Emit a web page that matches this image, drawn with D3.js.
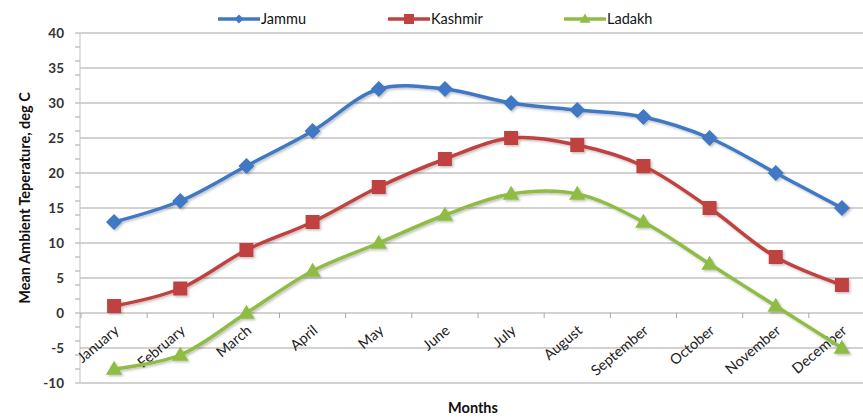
<!DOCTYPE html>
<html><head><meta charset="utf-8">
<script src="https://cdn.jsdelivr.net/npm/d3@7"></script>
<style>body{margin:0;background:#fff}svg{display:block}text{font-family:Lato,"Open Sans",sans-serif}</style>
</head><body>
<svg id="c" width="863" height="418"></svg>
<script>
const months = ["January","February","March","April","May","June","July","August","September","October","November","December"];
const jammu = [13,16,21,26,32,32,30,29,28,25,20,15];
const kashmir = [1,3.5,9,13,18,22,25,24,21,15,8,4];
const ladakh = [-8,-6,0,6,10,14,17,17,13,7,1,-5];
const seriesNames = ["Jammu","Kashmir","Ladakh"];
const seriesColors = ["#3f78c4","#c0423f","#8fbc45"];
const yTicks = [-10,-5,0,5,10,15,20,25,30,35,40];

const svg = d3.select("#c");
const x = d3.scaleBand().domain(months).range([81, 875]);
const y = d3.scaleLinear().domain([-10,40]).range([383, 33]);
const cx = d => x(d) + x.bandwidth()/2;

// marker shapes: diamond (rotated square), square, triangle
function marker(k, s){
  if(k===0) return `M0,${-s}L${s},0L0,${s}L${-s},0Z`;
  if(k===1) return `M${-s},${-s}H${s}V${s}H${-s}Z`;
  return `M0,${-s*1.1}L${s*1.1},${s*0.75}H${-s*1.1}Z`;
}

// gridlines
svg.append("g").selectAll("line").data(yTicks).join("line")
  .attr("x1",80).attr("x2",875).attr("y1",d=>y(d)).attr("y2",d=>y(d))
  .attr("stroke","#a6a6a6").attr("stroke-width",1.2);
// minor ticks on y axis
svg.append("g").selectAll("line").data(d3.range(-10,41,2)).join("line")
  .attr("x1",75).attr("x2",80).attr("y1",d=>y(d)).attr("y2",d=>y(d))
  .attr("stroke","#a6a6a6");
// y axis line
svg.append("line").attr("x1",80).attr("x2",80).attr("y1",y(40)).attr("y2",y(-10)).attr("stroke","#bfbfbf");
// x tick marks at band boundaries on zero line
svg.append("g").selectAll("line").data(months).join("line")
  .attr("x1",d=>x(d)).attr("x2",d=>x(d)).attr("y1",y(0)).attr("y2",y(0)+5)
  .attr("stroke","#a6a6a6");

// y tick labels
svg.append("g").selectAll("text").data(yTicks).join("text")
  .attr("x",64).attr("y",d=>y(d)).attr("dy","0.35em").attr("text-anchor","end")
  .attr("font-size",13.5).attr("font-weight","bold").attr("fill","#333")
  .text(d=>d);
// x labels
svg.append("g").selectAll("text").data(months).join("text")
  .attr("transform",d=>`translate(${cx(d)+6},${y(0)+19}) rotate(-40)`)
  .attr("text-anchor","end").attr("font-size",14.5).attr("fill","#222")
  .text(d=>d);

// axis titles
svg.append("text").attr("transform",`translate(30,198) rotate(-90)`)
  .attr("text-anchor","middle").attr("font-size",14.5).attr("font-weight","bold").attr("fill","#111")
  .text("Mean Ambient Teperature, deg C");
svg.append("text").attr("x",473).attr("y",413).attr("text-anchor","middle")
  .attr("font-size",14.5).attr("font-weight","bold").attr("fill","#111").text("Months");

// shadow filter
const defs = svg.append("defs");
const f = defs.append("filter").attr("id","sh").attr("x","-20%").attr("y","-20%").attr("width","140%").attr("height","140%");
f.append("feDropShadow").attr("dx",1.5).attr("dy",1.5).attr("stdDeviation",1.2).attr("flood-color","#000").attr("flood-opacity",0.25);

const allData = [jammu,kashmir,ladakh];
const line = d3.line().x((d,i)=>cx(months[i])).y(d=>y(d)).curve(d3.curveCatmullRom.alpha(0.5));
const symSizes = [8,7,7.5];
allData.forEach((vals,k)=>{
  const g = svg.append("g").attr("filter","url(#sh)");
  g.append("path").attr("d",line(vals)).attr("fill","none").attr("stroke",seriesColors[k]).attr("stroke-width",3.5);
  g.selectAll("path.m").data(vals).join("path").attr("class","m")
    .attr("transform",(d,i)=>`translate(${cx(months[i])},${y(d)})`)
    .attr("d",marker(k,symSizes[k]))
    .attr("fill",seriesColors[k]);
});

// legend
const legX = [218,388,564];
seriesNames.forEach((n,k)=>{
  const g = svg.append("g").attr("transform",`translate(${legX[k]},19)`);
  g.append("line").attr("x1",0).attr("x2",42).attr("stroke",seriesColors[k]).attr("stroke-width",3.5);
  g.append("path").attr("transform","translate(21,0)").attr("d",marker(k,k===0?4.5:5)).attr("fill",seriesColors[k]);
  g.append("text").attr("x",43).attr("dy","0.35em").attr("font-size",14.5).attr("fill","#111").text(n);
});
</script>
</body></html>
